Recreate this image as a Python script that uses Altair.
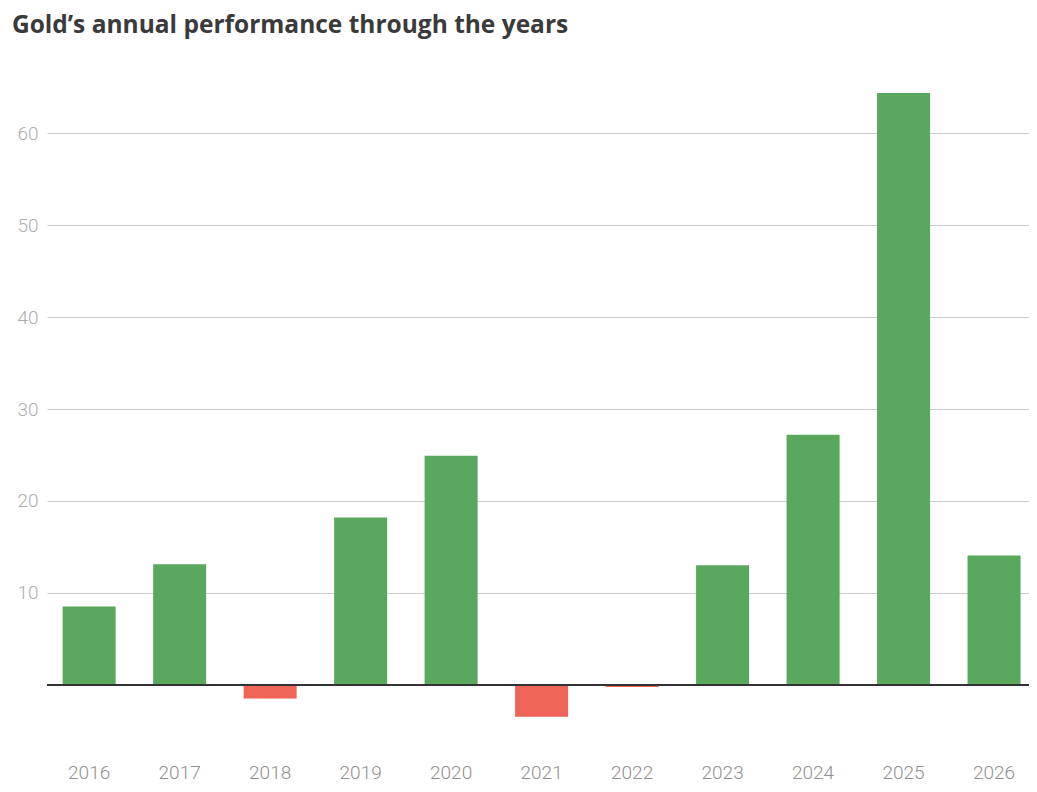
import altair as alt
import pandas as pd

years = ["2016", "2017", "2018", "2019", "2020", "2021", "2022", "2023", "2024", "2025", "2026"]
changes = [8.5, 13.1, -1.5, 18.2, 24.9, -3.5, -0.25, 13.0, 27.2, 64.4, 14.05]

df = pd.DataFrame({"year": years, "change": changes})

W, H = 982, 680
FONT = "Roboto"

base = alt.Chart(df)

bars = base.mark_bar().encode(
    x=alt.X("year:N", sort=years,
            scale=alt.Scale(paddingInner=0.414, paddingOuter=0.133, align=0.65),
            axis=alt.Axis(title=None, labelAngle=0, ticks=False, domain=False,
                          labelPadding=14, labelFontSize=19, labelColor="#8f8f8f",
                          labelFont=FONT, labelFontWeight=300, grid=False)),
    y=alt.Y("change:Q",
            scale=alt.Scale(domain=[-7, 67], nice=False, zero=True),
            axis=alt.Axis(title=None, values=[10, 20, 30, 40, 50, 60], ticks=False,
                          domain=False, labelPadding=9, labelFontSize=19,
                          labelColor="#adadad", labelFont=FONT, labelFontWeight=300,
                          grid=True, gridColor="#cccccc", gridWidth=1)),
    color=alt.condition(alt.datum.change > 0, alt.value("#5aa85e"), alt.value("#ee6557")),
)

zero = base.mark_rule(color="#333333", strokeWidth=1.5).encode(
    x=alt.value(0), x2=alt.value(W), y=alt.datum(0)
)

chart = alt.layer(bars, zero).properties(
    width=W, height=H,
    autosize=alt.AutoSizeParams(type="none"),
    padding={"left": 39, "top": 61, "right": 0, "bottom": 34},
    title=alt.TitleParams(
        "Gold’s annual performance through the years",
        anchor="start", offset=31, dx=-5, fontSize=24.5, font="Open Sans",
        fontWeight="bold", color="#3a3a3a",
    ),
).configure_view(stroke=None)

chart.save("out.html", embed_options={"renderer": "svg", "actions": False})
